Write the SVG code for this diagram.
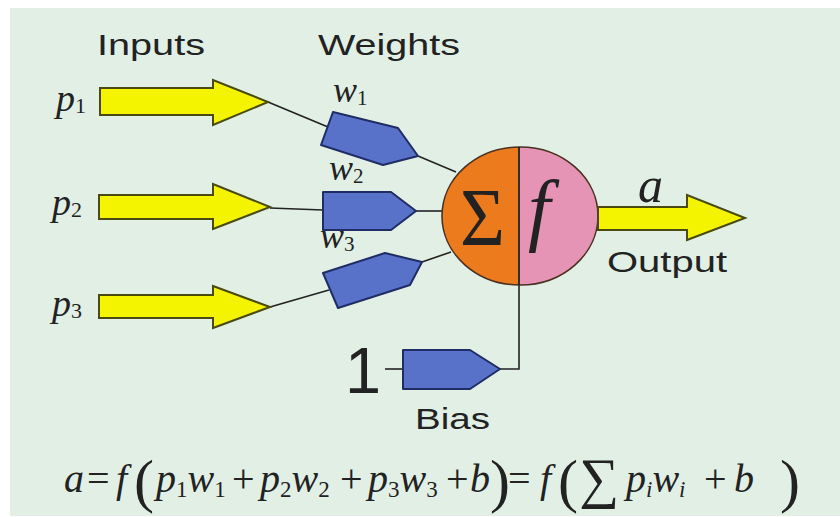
<svg xmlns="http://www.w3.org/2000/svg" width="840" height="517" viewBox="0 0 840 517">
<style>
.bg{fill:#e1efe5}
.arrow{fill:#f4f400;stroke:#4a4a10;stroke-width:2;stroke-linejoin:miter}
.wbox{fill:#5872c9;stroke:#1f2c66;stroke-width:2;stroke-linejoin:round}
.wire{fill:none;stroke:#222;stroke-width:1.6}
.sans{font-family:"Liberation Sans",Arial,sans-serif;fill:#222}
.serif{font-family:"Liberation Serif","Times New Roman",serif;fill:#222}
.it{font-style:italic}
</style>
<rect x="0" y="0" width="840" height="517" fill="#ffffff"/>
<rect class="bg" x="10" y="8" width="830" height="508"/>

<text class="sans" x="97" y="55" font-size="30" textLength="108" lengthAdjust="spacingAndGlyphs">Inputs</text>
<text class="sans" x="318" y="55" font-size="30" textLength="142" lengthAdjust="spacingAndGlyphs">Weights</text>

<g id="connectors">
<line class="wire" x1="268" y1="102" x2="328" y2="127"/>
<line class="wire" x1="418" y1="156" x2="456" y2="172"/>
<line class="wire" x1="270" y1="208" x2="323" y2="210"/>
<line class="wire" x1="416" y1="211" x2="443" y2="211"/>
<line class="wire" x1="270" y1="307" x2="329" y2="290"/>
<line class="wire" x1="422" y1="262" x2="451" y2="252"/>
<line class="wire" x1="385" y1="369" x2="403" y2="369"/>
<polyline class="wire" points="500,369 519,369 519,285"/>
</g>

<g id="input-p1">
<polygon class="arrow" points="100,88 213,88 213,80 268,102 213,125 213,115 100,115"/>
<text class="serif it" x="56" y="111" font-size="38">p<tspan font-style="normal" font-size="22" dy="2">1</tspan></text>
</g>
<g id="input-p2">
<polygon class="arrow" points="99,195 213,195 213,184 270,207 213,229 213,219 99,219"/>
<text class="serif it" x="52" y="215" font-size="38">p<tspan font-style="normal" font-size="22" dy="2">2</tspan></text>
</g>
<g id="input-p3">
<polygon class="arrow" points="99,295 213,295 213,286 270,307 213,328 213,318 99,318"/>
<text class="serif it" x="52" y="316" font-size="38">p<tspan font-style="normal" font-size="22" dy="2">3</tspan></text>
</g>

<g id="weight-w1">
<polygon class="wbox" points="333,112 398,128 418,156 383,165 321,145"/>
<text class="serif it" x="333" y="102" font-size="36">w<tspan font-style="normal" font-size="21" dy="3">1</tspan></text>
</g>
<g id="weight-w2">
<polygon class="wbox" points="323,192 391,192 416,211 391,230 323,230"/>
<text class="serif it" x="329" y="180" font-size="36">w<tspan font-style="normal" font-size="21" dy="3">2</tspan></text>
</g>
<g id="weight-w3">
<polygon class="wbox" points="323,273 385,253 422,262 410,285 338,308"/>
<text class="serif it" x="320" y="248" font-size="36">w<tspan font-style="normal" font-size="21" dy="3">3</tspan></text>
</g>

<g id="neuron">
<clipPath id="cl"><rect x="400" y="140" width="119" height="160"/></clipPath>
<clipPath id="cr"><rect x="519" y="140" width="100" height="160"/></clipPath>
<ellipse cx="520" cy="216" rx="78" ry="69" fill="#ec7b1d" clip-path="url(#cl)"/>
<ellipse cx="520" cy="216" rx="78" ry="69" fill="#e594b6" clip-path="url(#cr)"/>
<ellipse cx="520" cy="216" rx="78" ry="69" fill="none" stroke="#4a3020" stroke-width="1.6"/>
<line x1="519" y1="147" x2="519" y2="285" stroke="#222" stroke-width="1.8"/>
<text class="serif" x="460" y="245" font-size="82" textLength="45" lengthAdjust="spacingAndGlyphs">Σ</text>
<text class="serif it" x="528" y="236" font-size="80">f</text>
</g>

<g id="bias">
<text class="sans" x="345" y="393" font-size="64" textLength="36" lengthAdjust="spacingAndGlyphs">1</text>
<polygon class="wbox" points="403,350 470,350 500,369 470,389 403,389"/>
<text class="sans" x="415" y="429" font-size="30" textLength="75" lengthAdjust="spacingAndGlyphs">Bias</text>
</g>

<g id="output">
<polygon class="arrow" points="598,207 687,207 687,195 745,218 687,240 687,230 598,230"/>
<text class="serif it" x="638" y="202" font-size="50">a</text>
<text class="sans" x="607" y="272" font-size="30" textLength="120" lengthAdjust="spacingAndGlyphs">Output</text>
</g>

<g id="formula" class="serif" font-size="40">
<text x="64" y="492" font-style="italic">a</text>
<text x="87" y="492">=</text>
<text x="116" y="492" font-style="italic">f</text>
<text x="134" y="501" font-size="60">(</text>
<text x="156" y="492" font-style="italic">p<tspan font-style="normal" font-size="23" dy="5">1</tspan><tspan dy="-5">w</tspan><tspan font-style="normal" font-size="23" dy="5">1</tspan></text>
<text x="232" y="492">+</text>
<text x="260" y="492" font-style="italic">p<tspan font-style="normal" font-size="23" dy="5">2</tspan><tspan dy="-5">w</tspan><tspan font-style="normal" font-size="23" dy="5">2</tspan></text>
<text x="340" y="492">+</text>
<text x="368" y="492" font-style="italic">p<tspan font-style="normal" font-size="23" dy="5">3</tspan><tspan dy="-5">w</tspan><tspan font-style="normal" font-size="23" dy="5">3</tspan></text>
<text x="446" y="492">+</text>
<text x="470" y="492" font-style="italic">b</text>
<text x="490" y="501" font-size="60">)</text>
<text x="508" y="492">=</text>
<text x="540" y="492" font-style="italic">f</text>
<text x="558" y="501" font-size="60">(</text>
<text x="579" y="497" font-size="56">∑</text>
<text x="626" y="492" font-style="italic">p<tspan font-size="23" dy="5">i</tspan><tspan dy="-5">w</tspan><tspan font-size="23" dy="5">i</tspan></text>
<text x="704" y="492">+</text>
<text x="734" y="492" font-style="italic">b</text>
<text x="780" y="501" font-size="60">)</text>
</g>
</svg>
